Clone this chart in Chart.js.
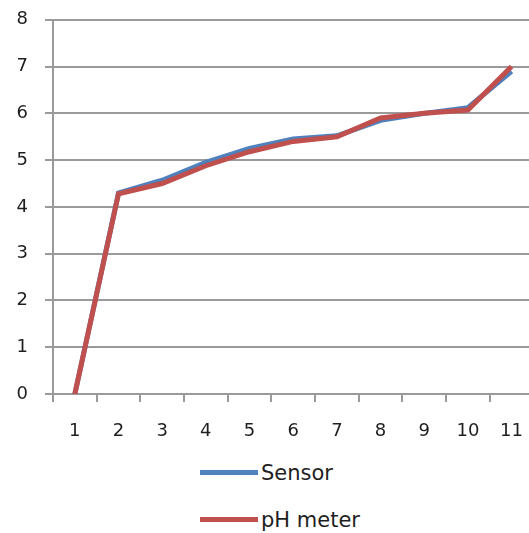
<!DOCTYPE html>
<html>
<head>
<meta charset="utf-8">
<script src="https://cdn.jsdelivr.net/npm/chart.js@4/dist/chart.umd.min.js"></script>
<style>
  html, body { margin: 0; padding: 0; background: #fff; overflow: hidden; }
  body { width: 529px; height: 533px; position: relative; }
  #c { position: absolute; left: 0; top: -8px; }
  #legend { position: absolute; left: 200px; top: 449px; font-family: "DejaVu Sans", sans-serif; font-size: 21px; color: #1e1e1e; }
  .item { display: flex; align-items: center; height: 47px; }
  .sw { width: 58px; height: 5px; margin-right: 3px; }
</style>
</head>
<body>
<canvas id="c" width="542" height="454"></canvas>
<div id="legend"></div>
<script>
const categories = ["1","2","3","4","5","6","7","8","9","10","11"];
const sensorValues = [0, 4.3, 4.57, 4.95, 5.25, 5.45, 5.52, 5.85, 6.0, 6.12, 6.9];
const phMeterValues = [0, 4.28, 4.5, 4.88, 5.18, 5.4, 5.5, 5.9, 6.0, 6.07, 7.0];
const yTicks = [0, 1, 2, 3, 4, 5, 6, 7, 8];
const seriesNames = ["Sensor", "pH meter"];
const seriesColors = ["#4F81BD", "#C0504D"];

const tickFont = { family: "DejaVu Sans", size: 18 };
const chart = new Chart(document.getElementById('c'), {
  type: 'line',
  data: {
    labels: categories,
    datasets: [
      { label: seriesNames[0], data: sensorValues, borderColor: seriesColors[0], backgroundColor: seriesColors[0], borderWidth: 5, pointRadius: 0, tension: 0, order: 2 },
      { label: seriesNames[1], data: phMeterValues, borderColor: seriesColors[1], backgroundColor: seriesColors[1], borderWidth: 5, pointRadius: 0, tension: 0, order: 1 }
    ]
  },
  options: {
    responsive: false,
    maintainAspectRatio: false,
    animation: false,
    layout: { padding: { top: 10, right: 0, left: 0, bottom: 0 } },
    plugins: { legend: { display: false }, tooltip: { enabled: false } },
    scales: {
      x: {
        offset: true,
        afterFit: (s) => { s.height = 52; },
        grid: { offset: true, drawOnChartArea: false, drawTicks: true, tickLength: 8, color: '#9a9a9a', lineWidth: 2 },
        border: { color: '#9a9a9a', width: 2 },
        ticks: { font: tickFont, color: '#1e1e1e', padding: 19, maxRotation: 0, autoSkip: false }
      },
      y: {
        min: 0, max: 8,
        afterBuildTicks: (s) => { s.ticks = yTicks.map(v => ({ value: v })); },
        afterFit: (s) => { s.width = 53; },
        grid: { color: '#9a9a9a', lineWidth: 2, tickLength: 8 },
        border: { color: '#9a9a9a', width: 2 },
        ticks: { font: tickFont, color: '#1e1e1e', padding: 17 }
      }
    }
  }
});

const leg = document.getElementById('legend');
chart.data.datasets.forEach(ds => {
  const row = document.createElement('div');
  row.className = 'item';
  const sw = document.createElement('div');
  sw.className = 'sw';
  sw.style.background = ds.borderColor;
  const t = document.createElement('span');
  t.textContent = ds.label;
  row.appendChild(sw); row.appendChild(t);
  leg.appendChild(row);
});
</script>
</body>
</html>
